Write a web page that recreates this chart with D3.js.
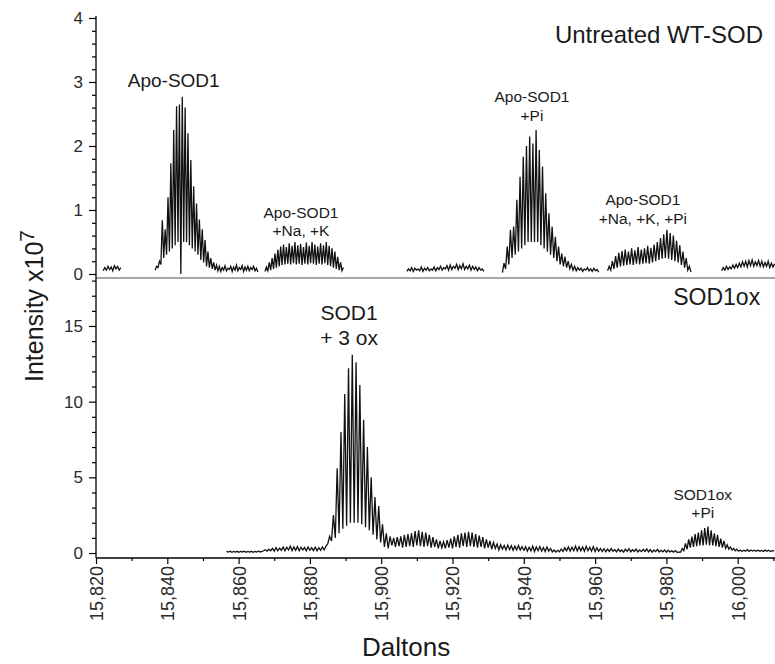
<!DOCTYPE html>
<html>
<head>
<meta charset="utf-8">
<script src="https://cdn.jsdelivr.net/npm/d3@7"></script>
<style>
  body { margin: 0; background: #fff; }
  svg { display: block; font-family: "Liberation Sans", Arial, sans-serif; }
</style>
</head>
<body>
<div id="chart"></div>
<script>
// tick values
var daltonTicks = [15820, 15840, 15860, 15880, 15900, 15920, 15940, 15960, 15980, 16000];
var daltonMinor = [15830, 15850, 15870, 15890, 15910, 15930, 15950, 15970, 15990, 16010];
var topTicks = [0, 1, 2, 3, 4];
var topMinor = [0.2, 0.4, 0.6, 0.8, 1.2, 1.4, 1.6, 1.8, 2.2, 2.4, 2.6, 2.8, 3.2, 3.4, 3.6, 3.8];
var bottomTicks = [0, 5, 10, 15];
var bottomMinor = [1, 2, 3, 4, 6, 7, 8, 9, 11, 12, 13, 14, 16, 17, 18];

// untreated WT-SOD spectrum, sampled pieces: [start Da, step Da] + intensities (x10^7)
var topNoiseA = [15822.0, 0.45];
var topNoiseAVals = [0.05, 0.1, 0.06, 0.12, 0.07, 0.11, 0.05, 0.13, 0.08, 0.12, 0.06, 0.1];

var topApo = [15836.6, 0.4];
var topApoVals = [0.06, 0.12, 0.1, 0.2, 0.15, 0.84, 0.25, 0.7, 0.3, 1.2, 0.35, 1.73, 0.4, 2.25, 0.45, 2.62,
  0.5, 2.65, 0, 2.77, 0.5, 2.6, 0.5, 2.2, 0.45, 1.78, 0.4, 1.37, 0.35, 1.1, 0.3, 0.85, 0.22, 0.7, 0.18, 0.53,
  0.12, 0.35, 0.1, 0.25, 0.08, 0.18, 0.06, 0.14, 0.05, 0.12, 0.04, 0.1, 0.06, 0.13, 0.05, 0.09, 0.07, 0.12,
  0.04, 0.11, 0.06, 0.14, 0.05, 0.1, 0.07, 0.13, 0.04, 0.11, 0.06, 0.12, 0.05, 0.1, 0.07, 0.12, 0.05, 0.09, 0.03];

var topNaK = [15867.4, 0.4];
var topNaKVals = [0.04, 0.11, 0.05, 0.18, 0.06, 0.25, 0.08, 0.32, 0.1, 0.38, 0.12, 0.43, 0.14, 0.46, 0.15, 0.42,
  0.16, 0.48, 0.15, 0.44, 0.17, 0.5, 0.15, 0.45, 0.16, 0.47, 0.14, 0.42, 0.16, 0.49, 0.15, 0.44, 0.17, 0.5,
  0.16, 0.46, 0.14, 0.43, 0.16, 0.48, 0.15, 0.45, 0.17, 0.5, 0.14, 0.44, 0.12, 0.4, 0.1, 0.35, 0.08, 0.27,
  0.06, 0.18, 0.05, 0.1];

var topNoiseB = [15907.2, 0.45];
var topNoiseBVals = [0.04, 0.08, 0.05, 0.1, 0.04, 0.09, 0.06, 0.08, 0.05, 0.11, 0.04, 0.09, 0.06, 0.1, 0.05, 0.08,
  0.06, 0.11, 0.05, 0.1, 0.07, 0.12, 0.06, 0.1, 0.08, 0.13, 0.06, 0.14, 0.07, 0.12, 0.09, 0.15, 0.07, 0.13,
  0.08, 0.16, 0.07, 0.12, 0.08, 0.14, 0.06, 0.12, 0.07, 0.11, 0.05, 0.1, 0.06, 0.08, 0.04];

var topPi = [15934.0, 0.45];
var topPiVals = [0.02, 0.17, 0.08, 0.43, 0.15, 0.69, 0.25, 0.74, 0.3, 1.16, 0.35, 1.52, 0.4, 1.83, 0.45, 2.0,
  0.5, 2.15, 0.5, 2.04, 0.5, 2.25, 0.5, 1.94, 0.45, 1.68, 0.4, 1.26, 0.35, 0.95, 0.3, 0.74, 0.25, 0.58, 0.2,
  0.43, 0.15, 0.32, 0.12, 0.27, 0.1, 0.2, 0.08, 0.15, 0.06, 0.12, 0.05, 0.1, 0.06, 0.09, 0.04, 0.08, 0.06,
  0.1, 0.05, 0.08, 0.04, 0.09, 0.05, 0.07, 0.03];

var topNaKPi = [15963.5, 0.45];
var topNaKPiVals = [0.05, 0.12, 0.06, 0.2, 0.08, 0.28, 0.1, 0.33, 0.12, 0.36, 0.13, 0.38, 0.14, 0.35, 0.15, 0.4,
  0.14, 0.37, 0.16, 0.42, 0.15, 0.38, 0.16, 0.4, 0.17, 0.44, 0.16, 0.41, 0.18, 0.46, 0.2, 0.5, 0.22, 0.56,
  0.24, 0.62, 0.25, 0.69, 0.24, 0.64, 0.22, 0.6, 0.2, 0.52, 0.18, 0.45, 0.14, 0.35, 0.1, 0.25, 0.06, 0.12, 0.03];

var topNoiseC = [15995.5, 0.45];
var topNoiseCVals = [0.05, 0.1, 0.06, 0.12, 0.07, 0.11, 0.08, 0.14, 0.09, 0.15, 0.1, 0.17, 0.11, 0.19, 0.12, 0.2,
  0.11, 0.21, 0.13, 0.22, 0.12, 0.19, 0.13, 0.21, 0.12, 0.2, 0.11, 0.18, 0.12, 0.2, 0.1, 0.17, 0.11, 0.16];

// SOD1ox spectrum, one continuous trace
var botFlat = [15856.6, 0.5];
var botFlatVals = [0.1, 0.06, 0.12, 0.05, 0.1, 0.06, 0.11, 0.05, 0.1, 0.07, 0.12, 0.05, 0.1, 0.06, 0.11, 0.05,
  0.1, 0.06, 0.12, 0.07, 0.1];

var botLow = [15867.0, 0.5];
var botLowVals = [0.15, 0.22, 0.12, 0.25, 0.15, 0.3, 0.12, 0.35, 0.15, 0.32, 0.18, 0.4, 0.15, 0.38, 0.2, 0.45,
  0.16, 0.4, 0.18, 0.42, 0.15, 0.38, 0.2, 0.36, 0.15, 0.4, 0.18, 0.35, 0.16, 0.38, 0.14, 0.35, 0.18, 0.4, 0.2, 0.45];

var botMain = [15885.0, 0.53];
var botMainVals = [0.6, 1.1, 0.8, 2.5, 1.0, 5.6, 1.3, 8.0, 1.6, 10.5, 1.8, 12.2, 2.0, 13.1, 2.0, 12.6, 2.0, 11.1,
  1.9, 8.8, 1.7, 7.0, 1.5, 5.0, 1.2, 3.7, 0.9, 3.1, 0.7, 1.9, 0.4, 1.3, 0.3, 1.1];

var botHumps = [15903.0, 0.5];
var botHumpsVals = [0.5, 1.0, 0.4, 1.05, 0.45, 1.1, 0.35, 1.2, 0.4, 1.25, 0.45, 1.3, 0.4, 1.45, 0.5, 1.5, 0.45, 1.4,
  0.4, 1.35, 0.45, 1.2, 0.35, 1.05, 0.4, 0.9, 0.3, 0.8, 0.35, 0.75, 0.3, 0.85, 0.35, 0.95, 0.3, 1.1, 0.4, 1.2,
  0.35, 1.3, 0.45, 1.35, 0.4, 1.4, 0.45, 1.35, 0.4, 1.25, 0.35, 1.15, 0.4, 1.05, 0.3, 0.9, 0.35, 0.8, 0.25, 0.7,
  0.3, 0.6, 0.2, 0.55, 0.25, 0.5, 0.2, 0.52, 0.22, 0.48, 0.18, 0.45, 0.2, 0.5, 0.2, 0.42, 0.18];

var botMid = [15940.0, 0.5];
var botMidVals = [0.15, 0.42, 0.12, 0.38, 0.14, 0.45, 0.1, 0.4, 0.15, 0.43, 0.12, 0.36, 0.1, 0.4, 0.12, 0.3, 0.08,
  0.2, 0.06, 0.18, 0.08, 0.25, 0.1, 0.35, 0.14, 0.4, 0.12, 0.38, 0.15, 0.45, 0.13, 0.42, 0.14, 0.4, 0.12, 0.44,
  0.15, 0.38, 0.12, 0.42, 0.1, 0.35, 0.12, 0.3, 0.1, 0.28, 0.08, 0.25, 0.1, 0.3, 0.12, 0.22, 0.08, 0.26, 0.1,
  0.2, 0.06, 0.25, 0.1, 0.28, 0.08, 0.22, 0.1, 0.26, 0.07, 0.2, 0.09, 0.24, 0.1, 0.27, 0.08, 0.22, 0.06, 0.2,
  0.09, 0.24, 0.07, 0.18, 0.08, 0.2, 0.05, 0.18, 0.07, 0.14, 0.06, 0.16, 0.05];

var botPi = [15984.0, 0.45];
var botPiVals = [0.06, 0.3, 0.15, 0.64, 0.25, 0.9, 0.35, 1.08, 0.4, 1.25, 0.45, 1.35, 0.5, 1.5, 0.5, 1.65, 0.55,
  1.74, 0.5, 1.5, 0.5, 1.3, 0.45, 1.2, 0.4, 0.95, 0.35, 0.8, 0.3, 0.55, 0.25, 0.4, 0.2, 0.3, 0.15, 0.25, 0.12];

var botTail = [16000.2, 0.5];
var botTailVals = [0.12, 0.2, 0.1, 0.18, 0.12, 0.22, 0.1, 0.2, 0.13, 0.18, 0.11, 0.2, 0.12, 0.17, 0.1, 0.19,
  0.12, 0.18, 0.1, 0.16, 0.12];

var sodChart = (function () {
  var svg, x, yTop, yBot, width, height, xAxisY;
  var fontFamily = '"Liberation Sans", Arial, sans-serif';

  function setupConfig() {
    width = 775;
    height = 664;
    xAxisY = 558;

    x = d3.scaleLinear().domain([15820, 16000]).range([96, 737.7]);
    yTop = d3.scaleLinear().domain([0, 4]).range([274, 18]);
    yBot = d3.scaleLinear().domain([0, 15]).range([553, 326]);

    svg = d3.select("#chart").append("svg")
      .attr("width", width)
      .attr("height", height);
  }

  function toPoints(piece, values) {
    return values.map(function (v, i) { return [piece[0] + i * piece[1], v]; });
  }

  function drawAxes() {
    // divider between the two spectra
    svg.append("line")
      .attr("x1", x(15820)).attr("x2", width)
      .attr("y1", yTop(0) + 4).attr("y2", yTop(0) + 4)
      .attr("stroke", "#8a8a8a").attr("stroke-width", 1.6);

    // x axis
    var gx = svg.append("g").attr("transform", "translate(0," + xAxisY + ")");
    gx.call(d3.axisBottom(x).tickValues(daltonTicks).tickFormat(d3.format(",")).tickSize(6).tickSizeOuter(0));
    gx.append("g").call(d3.axisBottom(x).tickValues(daltonMinor).tickFormat("").tickSize(3).tickSizeOuter(0));
    gx.selectAll(".domain").remove();
    gx.selectAll("line").attr("stroke-width", 1.2);
    gx.selectAll("text")
      .attr("transform", "rotate(-90)")
      .attr("x", -8).attr("y", 0).attr("dy", "0.36em")
      .style("text-anchor", "end")
      .style("font-family", fontFamily)
      .style("font-size", "18px")
      .style("fill", "#2a2a2a");
    svg.append("line")
      .attr("x1", x(15820)).attr("x2", width)
      .attr("y1", xAxisY).attr("y2", xAxisY)
      .attr("stroke", "#000").attr("stroke-width", 1.3);

    // y axes
    var left = x(15820);
    var gTop = svg.append("g").attr("transform", "translate(" + left + ",0)");
    gTop.call(d3.axisLeft(yTop).tickValues(topTicks).tickFormat(d3.format("d")).tickSize(7).tickSizeOuter(0));
    gTop.append("g").call(d3.axisLeft(yTop).tickValues(topMinor).tickFormat("").tickSize(4).tickSizeOuter(0));

    var gBot = svg.append("g").attr("transform", "translate(" + left + ",0)");
    gBot.call(d3.axisLeft(yBot).tickValues(bottomTicks).tickFormat(d3.format("d")).tickSize(7).tickSizeOuter(0));
    gBot.append("g").call(d3.axisLeft(yBot).tickValues(bottomMinor).tickFormat("").tickSize(4).tickSizeOuter(0));

    [gTop, gBot].forEach(function (g) {
      g.selectAll(".domain").remove();
      g.selectAll("line").attr("stroke-width", 1.2);
      g.selectAll("text").attr("x", -13)
        .style("font-family", fontFamily)
        .style("font-size", "17px").style("fill", "#2a2a2a");
    });

    svg.append("line")
      .attr("x1", left).attr("x2", left)
      .attr("y1", yTop(4) - 2).attr("y2", xAxisY)
      .attr("stroke", "#000").attr("stroke-width", 1.3);

    // axis titles
    svg.append("text")
      .attr("x", x(15907)).attr("y", 656)
      .attr("text-anchor", "middle")
      .style("font-size", "26px").style("fill", "#1a1a1a")
      .text("Daltons");

    var yt = svg.append("text")
      .attr("transform", "translate(43,306) rotate(-90)")
      .attr("text-anchor", "middle")
      .style("font-size", "25px").style("fill", "#1a1a1a");
    yt.append("tspan").text("Intensity x10");
    yt.append("tspan").attr("dy", "-0.42em").style("font-size", "21px").text("7");
  }

  function drawSpectra() {
    var topLine = d3.line().x(function (d) { return x(d[0]); }).y(function (d) { return yTop(d[1]); });
    var botLine = d3.line().x(function (d) { return x(d[0]); }).y(function (d) { return yBot(d[1]); });

    var topPieces = [
      toPoints(topNoiseA, topNoiseAVals),
      toPoints(topApo, topApoVals),
      toPoints(topNaK, topNaKVals),
      toPoints(topNoiseB, topNoiseBVals),
      toPoints(topPi, topPiVals),
      toPoints(topNaKPi, topNaKPiVals),
      toPoints(topNoiseC, topNoiseCVals)
    ];

    svg.selectAll(".top-trace")
      .data(topPieces)
      .enter().append("path")
      .attr("class", "top-trace")
      .attr("d", topLine)
      .attr("fill", "none").attr("stroke", "#111").attr("stroke-width", 1.3);

    var bottomTrace = [].concat(
      toPoints(botFlat, botFlatVals),
      toPoints(botLow, botLowVals),
      toPoints(botMain, botMainVals),
      toPoints(botHumps, botHumpsVals),
      toPoints(botMid, botMidVals),
      toPoints(botPi, botPiVals),
      toPoints(botTail, botTailVals)
    );

    svg.append("path")
      .data([bottomTrace])
      .attr("d", botLine)
      .attr("fill", "none").attr("stroke", "#111").attr("stroke-width", 1.3);
  }

  function label(lines, xv, yv, scale, size, anchor, gap) {
    var t = svg.append("text")
      .attr("text-anchor", anchor)
      .style("font-size", size + "px").style("fill", "#1a1a1a");
    lines.forEach(function (s, i) {
      t.append("tspan").attr("x", x(xv)).attr("y", scale(yv) + i * gap).text(s);
    });
  }

  function drawLabels() {
    label(["Untreated WT-SOD"], 16007.1, 3.61, yTop, 24, "end", 0);
    label(["Apo-SOD1"], 15841.8, 2.92, yTop, 19, "middle", 0);
    label(["Apo-SOD1", "+Na, +K"], 15877.5, 0.875, yTop, 15.5, "middle", 18);
    label(["Apo-SOD1", "+Pi"], 15942.3, 2.69, yTop, 15.5, "middle", 19);
    label(["Apo-SOD1", "+Na, +K, +Pi"], 15973.4, 1.08, yTop, 15.5, "middle", 19);
    label(["SOD1ox"], 16006.3, 16.39, yBot, 23, "end", 0);
    label(["SOD1", "+ 3 ox"], 15891, 15.4, yBot, 21, "middle", 25);
    label(["SOD1ox", "+Pi"], 15990.2, 3.5, yBot, 15.5, "middle", 18);
  }

  setupConfig();
  drawAxes();
  drawSpectra();
  drawLabels();
})();
</script>
</body>
</html>
